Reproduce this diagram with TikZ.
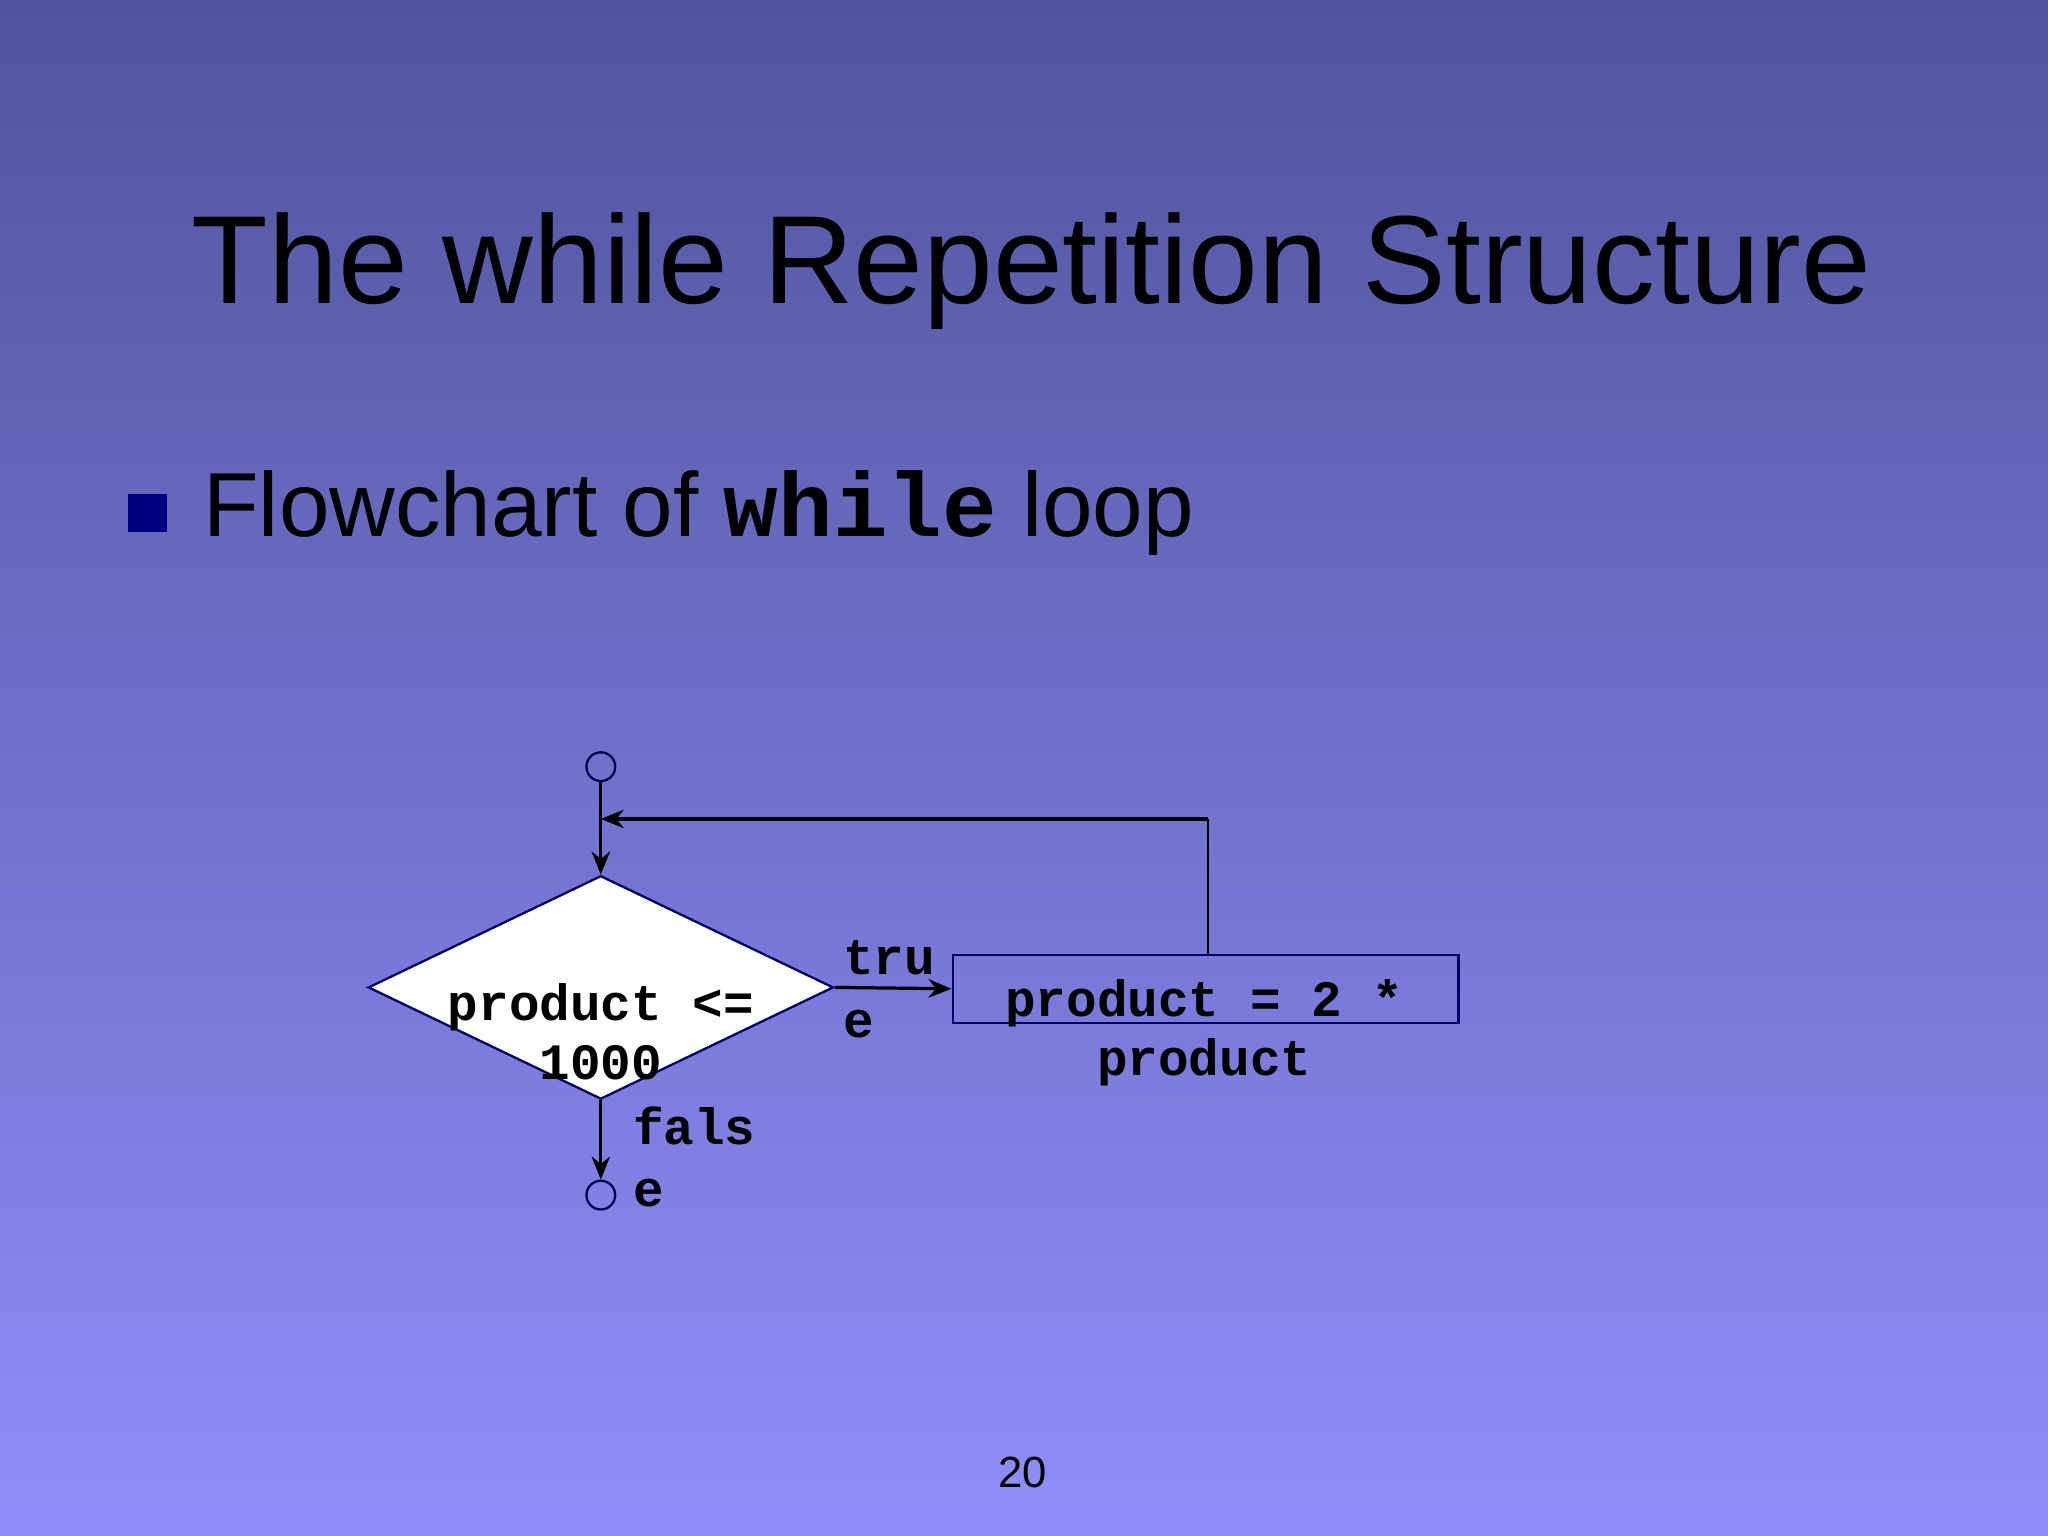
\documentclass[tikz,border=0pt]{standalone}
\usepackage{fontspec}
\setmainfont{Liberation Sans}
\newfontfamily\cmono{Liberation Mono}
\usetikzlibrary{shapes.geometric,arrows.meta}
\begin{document}
\begin{tikzpicture}[x=0.01cm,y=0.01cm,
  ln/.style={draw=black,line width=0.7pt},
  arr/.style={ln,-{Stealth[length=5pt,width=4pt]}},
  mono/.style={font=\cmono\bfseries\fontsize{11.1}{12.8}\selectfont,inner sep=0pt},
  term/.style={circle,draw=black!70!blue,line width=0.5pt,minimum size=0.22cm,inner sep=0pt}]
\shade[top color={rgb,255:red,80;green,84;blue,156},bottom color={rgb,255:red,144;green,142;blue,250}] (0,0) rectangle (1568,-1176);
\useasboundingbox (0,0) rectangle (1568,-1176);
\node[font=\fontsize{27.3}{32}\selectfont,anchor=base] (title) at (790,-232) {The while Repetition Structure};
\fill[fill={rgb,255:red,0;green,0;blue,128}] (98,-378) rectangle (128,-407);
\node[font=\fontsize{19.8}{24}\selectfont,anchor=base west,inner sep=0pt] (bul) at (155,-411) {Flowchart of {\cmono\bfseries while} loop};
\node[term] (s) at (460,-587) {};
\node[diamond,draw=black!60!blue,line width=0.5pt,fill=white,minimum width=3.56cm,minimum height=1.71cm,inner sep=0pt] (d) at (460,-756) {};
\node[mono,align=center] (dt) at (460,-790) {product <=\\1000};
\node[term] (e) at (460,-915) {};
\node[draw=black!60!blue,line width=0.5pt,minimum width=3.87cm,minimum height=0.52cm,inner sep=0pt] (b) at (923,-757) {};
\node[mono,align=center] (bt) at (922,-791) {product = 2 *\\product};
\node[mono,anchor=base west] (tl) at (645,-746) {tru};
\node[mono,anchor=base west] (tl2) at (645,-794) {e};
\node[mono,anchor=base west] (fl) at (484,-876) {fals};
\node[mono,anchor=base west] (fl2) at (484,-924) {e};
\node[font=\fontsize{9.5}{12}\selectfont] (pg) at (783,-1127) {20};
\coordinate (c1) at (925,-627);
\coordinate (c2) at (460,-627);
\draw[arr] (s) -- (d.north);
\draw[arr] (d.south) -- (e);
\draw[arr] (d.east) -- (b.west);
\draw[line width=0.35pt] (b.north -| c1) -- (c1);
\draw[arr] (c1) -- (c2);
\end{tikzpicture}
\end{document}
